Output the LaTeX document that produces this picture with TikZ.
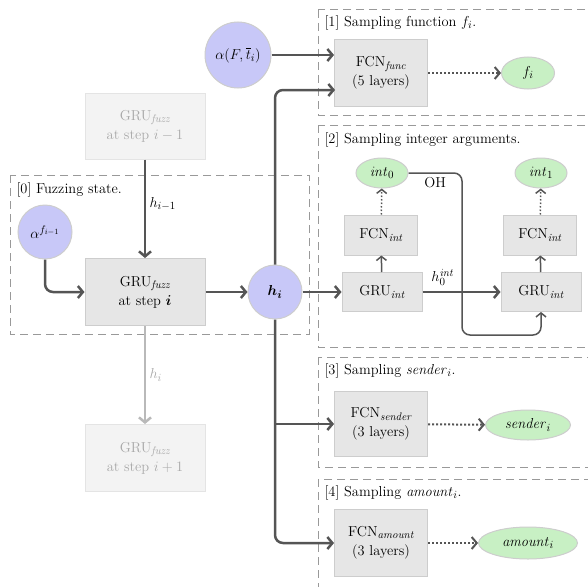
\documentclass[tikz,border=0pt]{standalone}
\usepackage{amsmath, amssymb}
\usepackage{tikz}
\usetikzlibrary{shapes,arrows,arrows.meta}
\DeclareMathSizes{14.4}{14.4}{10.95}{8}
\definecolor{netfill}{HTML}{E6E6E6}
\definecolor{netedge}{HTML}{CDCDCD}
\definecolor{fadefill}{HTML}{F3F3F3}
\definecolor{fadeedge}{HTML}{E4E4E4}
\definecolor{fadetext}{HTML}{A8A8A8}
\definecolor{statefill}{HTML}{C8C8F8}
\definecolor{outfill}{HTML}{C8F0C4}
\definecolor{wire}{HTML}{555555}
\tikzstyle{net} = [rectangle, draw=netedge, fill=netfill, align=center,
    inner sep=0pt, line width=1pt]
\tikzstyle{fadenet} = [net, draw=fadeedge, fill=fadefill, text=fadetext]
\tikzstyle{param} = [circle, draw=netedge, fill=statefill, inner sep=0pt,
    line width=1pt]
\tikzstyle{outcome} = [ellipse, draw=netedge, fill=outfill, inner sep=0pt,
    line width=1pt]
\tikzstyle{line} = [draw=wire, line width=2.5pt,
    -{Straight Barb[length=5pt, width=12pt]}]
\tikzstyle{thinline} = [draw=wire, line width=1.5pt]
\tikzstyle{thinarrow} = [thinline, -{Straight Barb[length=4pt, width=10pt]}]
\tikzstyle{dotline} = [draw=wire, line width=2pt, dotted,
    -{Straight Barb[length=5pt, width=12pt]}]
\tikzstyle{frame} = [draw=gray!80, line width=1pt, dash pattern=on 8pt off 5pt]

\begin{document}
\begin{tikzpicture}[x=1pt, y=-1pt, font=\fontsize{14.4}{17}\selectfont]
    \useasboundingbox (0,0) rectangle (588,586);
    \clip (0,0) rectangle (588,586);

    % Stage frames
    \draw [frame] (10,175) rectangle (309,334);
    \draw [frame] (318,10) rectangle (600,115);
    \draw [frame] (318,125) rectangle (600,347);
    \draw [frame] (318,357) rectangle (600,467);
    \draw [frame] (318,479) rectangle (600,620);
    \node [anchor=west] (lab0) at (13,190) {[0] Fuzzing state.};
    \node [anchor=west] (lab1) at (321,23) {[1] Sampling function $f_i$.};
    \node [anchor=west] (lab2) at (321,140) {[2] Sampling integer arguments.};
    \node [anchor=west] (lab3) at (321,371) {[3] Sampling $\mathit{sender}_i$.};
    \node [anchor=west] (lab4) at (321,493) {[4] Sampling $\mathit{amount}_i$.};

    % Place nodes
    \node [fadenet, minimum width=120, minimum height=66] (fuzzprev) at (145,126)
        {GRU$_{\textit{fuzz}}$\\[2pt] at step $i-1$};
    \node [net, minimum width=120, minimum height=67] (fuzz) at (145,292)
        {GRU$_{\textit{fuzz}}$\\[2pt] at step $\boldsymbol{i}$};
    \node [fadenet, minimum width=120, minimum height=67] (fuzznext) at (145,458)
        {GRU$_{\textit{fuzz}}$\\[2pt] at step $i+1$};
    \node [param, minimum size=54] (afprev) at (45,232) {$\alpha^{f_{i-1}}$};
    \node [param, minimum size=66] (atf) at (238,55) {$\alpha(F,\overline{t}_i)$};
    \node [param, minimum size=54] (hi) at (275,292) {$\boldsymbol{h_i}$};

    \node [net, minimum width=93, minimum height=67] (fcnfunc) at (381,73)
        {FCN$_{\textit{func}}$\\[2pt] (5 layers)};
    \node [outcome, minimum width=53, minimum height=32] (fi) at (528,73) {$f_i$};

    \node [outcome, minimum width=52, minimum height=30] (int0) at (382,173) {$\mathit{int}_0$};
    \node [outcome, minimum width=52, minimum height=30] (int1) at (541,173) {$\mathit{int}_1$};
    \node [net, minimum width=73, minimum height=40] (fcnint0) at (381,235) {FCN$_{\textit{int}}$};
    \node [net, minimum width=73, minimum height=40] (fcnint1) at (540,235) {FCN$_{\textit{int}}$};
    \node [net, minimum width=80, minimum height=39] (gruint0) at (382,292) {GRU$_{\textit{int}}$};
    \node [net, minimum width=80, minimum height=39] (gruint1) at (541,292) {GRU$_{\textit{int}}$};
    \coordinate (ohturn) at (462,335);

    \node [net, minimum width=93, minimum height=65] (fcnsend) at (381,424)
        {FCN$_{\textit{sender}}$\\[2pt] (3 layers)};
    \node [outcome, minimum width=85, minimum height=30] (sendi) at (528,425) {$\mathit{sender}_i$};
    \node [net, minimum width=93, minimum height=67] (fcnamt) at (381,543)
        {FCN$_{\textit{amount}}$\\[2pt] (3 layers)};
    \node [outcome, minimum width=99, minimum height=32] (amti) at (528,543) {$\mathit{amount}_i$};
    \coordinate (funcin) at (335,90);

    % Draw edges
    % Fuzzing state
    \path [line] (fuzzprev) -- node [right, pos=0.45] {$h_{i-1}$} (fuzz);
    \path [line, draw=fadetext!80] (fuzz) -- node [right, text=fadetext] {$h_i$} (fuzznext);
    \path [line, rounded corners=8] (afprev.south) |- (fuzz.west);
    \path [line] (fuzz) -- (hi);

    % Heads fed by h_i
    \path [line] (atf.east) -- (atf.east -| fcnfunc.west);
    \path [line, rounded corners=8] (hi.north) |- (funcin);
    \path [line, rounded corners=8] (hi.south) |- (fcnamt.west);
    \path [line] (hi |- fcnsend.west) -- (fcnsend.west);
    \path [line] (hi) -- (gruint0);

    % Integer arguments
    \path [thinarrow, rounded corners=8] (int0.east) -- node [below] {OH}
        (int0.east -| ohturn) -- (ohturn) -| (gruint1.south);
    \path [line] (gruint0) -- node [above, pos=0.26, inner sep=1pt, yshift=4pt] {$h_0^{\mathit{int}}$} (gruint1);
    \path [thinarrow] (gruint0) -- (fcnint0);
    \path [thinarrow] (gruint1) -- (fcnint1);
    \path [thinarrow, dotted] (fcnint0) -- (int0);
    \path [thinarrow, dotted] (fcnint1) -- (int1);

    % Sampled outputs
    \path [dotline] (fcnfunc) -- (fi);
    \path [dotline] (fcnsend) -- (sendi);
    \path [dotline] (fcnamt) -- (amti);

\end{tikzpicture}
\end{document}
